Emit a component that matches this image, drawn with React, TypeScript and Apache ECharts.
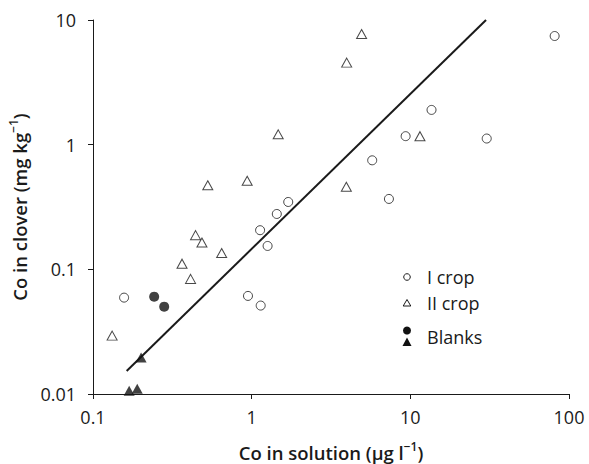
import { useEffect, useRef } from 'react';
import * as echarts from 'echarts';

// Co concentrations: solution (µg l⁻¹) vs clover (mg kg⁻¹)
const CROP1_X = [0.157, 0.948, 1.14, 1.13, 1.26, 1.44, 1.7, 5.75, 7.33, 9.34, 13.6, 30.3, 81.2];
const CROP1_Y = [0.0593, 0.0612, 0.0512, 0.206, 0.154, 0.278, 0.347, 0.749, 0.367, 1.17, 1.9, 1.12, 7.44];
const CROP2_X = [0.132, 0.364, 0.412, 0.443, 0.486, 0.647, 0.529, 0.937, 1.47, 3.97, 4.93, 3.95, 11.5];
const CROP2_Y = [0.0294, 0.111, 0.0838, 0.188, 0.164, 0.135, 0.472, 0.514, 1.21, 4.55, 7.72, 0.46, 1.17];
const BLANK_CIRCLE_X = [0.243, 0.281];
const BLANK_CIRCLE_Y = [0.0604, 0.0502];
const BLANK_TRI_X = [0.201, 0.169, 0.19];
const BLANK_TRI_Y = [0.0196, 0.0106, 0.011];
// regression line end points
const FIT_X = [0.163, 30];
const FIT_Y = [0.0153, 10];

const LEGEND_LABELS = ['I crop', 'II crop', 'Blanks'];

const FONT = "'Open Sans', sans-serif";
const INK = '#1a1a1a';

const pairs = (xs: number[], ys: number[]) => xs.map((x, i) => [x, ys[i]]);

export default function App() {
  const ref = useRef<HTMLDivElement>(null);

  useEffect(() => {
    if (!ref.current) return;
    const chart = echarts.init(ref.current, null, { renderer: 'svg' });

    const axisCommon = {
      type: 'log' as const,
      logBase: 10,
      axisLine: { show: true, lineStyle: { color: INK, width: 1 } },
      axisTick: { show: true, inside: false, length: 5, lineStyle: { color: INK, width: 1 } },
      minorTick: { show: false },
      splitLine: { show: false },
      axisLabel: {
        color: INK,
        fontFamily: FONT,
        fontSize: 18,
        formatter: (v: number) => String(v),
      },
      nameLocation: 'middle' as const,
    };

    const titleRich = {
      t: { fontFamily: FONT, fontSize: 18.5, fontWeight: 600, color: INK, lineHeight: 24 },
      s: { fontFamily: FONT, fontSize: 12, fontWeight: 600, color: INK, lineHeight: 15, verticalAlign: 'top' as const },
    };

    const lx = 407;
    const tx = 427;

    chart.setOption({
      animation: false,
      backgroundColor: '#ffffff',
      grid: {
        left: 93,
        right: 20,
        top: 20,
        bottom: 70,
        containLabel: false,
        outerBoundsMode: 'none',
      },
      xAxis: {
        ...axisCommon,
        min: 0.1,
        max: 100,
        axisLabel: { ...axisCommon.axisLabel, margin: 14 },
        name: '{t|Co in solution (µg l}{s|−1}{t|)}',
        nameGap: 46,
        nameTextStyle: { rich: titleRich },
      },
      yAxis: {
        ...axisCommon,
        min: 0.01,
        max: 10,
        axisLabel: { ...axisCommon.axisLabel, margin: 17 },
        name: '{t|Co in clover (mg kg}{s|−1}{t|)}',
        nameGap: 62,
        nameTextStyle: { rich: titleRich },
      },
      series: [
        {
          name: 'fit',
          type: 'line',
          data: pairs(FIT_X, FIT_Y),
          symbol: 'none',
          lineStyle: { color: INK, width: 2 },
          z: 1,
        },
        {
          name: LEGEND_LABELS[0],
          type: 'scatter',
          data: pairs(CROP1_X, CROP1_Y),
          symbol: 'circle',
          symbolSize: 9,
          itemStyle: { color: '#ffffff', borderColor: INK, borderWidth: 1 },
          z: 3,
        },
        {
          name: LEGEND_LABELS[1],
          type: 'scatter',
          data: pairs(CROP2_X, CROP2_Y),
          symbol: 'triangle',
          symbolSize: [10, 9],
          itemStyle: { color: '#ffffff', borderColor: INK, borderWidth: 1 },
          z: 3,
        },
        {
          name: LEGEND_LABELS[2],
          type: 'scatter',
          data: pairs(BLANK_CIRCLE_X, BLANK_CIRCLE_Y),
          symbol: 'circle',
          symbolSize: 10,
          itemStyle: { color: '#111111' },
          z: 3,
        },
        {
          name: LEGEND_LABELS[2] + ' ',
          type: 'scatter',
          data: pairs(BLANK_TRI_X, BLANK_TRI_Y),
          symbol: 'triangle',
          symbolSize: [11, 10],
          clip: false,
          itemStyle: { color: '#111111' },
          z: 3,
        },
      ],
      graphic: [
        {
          type: 'circle',
          shape: { cx: lx, cy: 277, r: 3.3 },
          style: { fill: '#fff', stroke: INK, lineWidth: 1 },
        },
        {
          type: 'polygon',
          shape: { points: [[lx, 299.5], [lx - 3.8, 306], [lx + 3.8, 306]] },
          style: { fill: '#fff', stroke: INK, lineWidth: 1 },
        },
        {
          type: 'circle',
          shape: { cx: lx, cy: 330.5, r: 4 },
          style: { fill: '#111' },
        },
        {
          type: 'polygon',
          shape: { points: [[lx, 337.5], [lx - 4.5, 346], [lx + 4.5, 346]] },
          style: { fill: '#111' },
        },
        {
          type: 'text',
          x: tx,
          y: 277,
          style: { text: LEGEND_LABELS[0], fontFamily: FONT, fontSize: 18, fill: INK, verticalAlign: 'middle' },
        },
        {
          type: 'text',
          x: tx,
          y: 303,
          style: { text: LEGEND_LABELS[1], fontFamily: FONT, fontSize: 18, fill: INK, verticalAlign: 'middle' },
        },
        {
          type: 'text',
          x: tx,
          y: 337,
          style: { text: LEGEND_LABELS[2], fontFamily: FONT, fontSize: 18, fill: INK, verticalAlign: 'middle' },
        },
      ],
    });

    return () => chart.dispose();
  }, []);

  return (
    <div
      ref={ref}
      style={{ position: 'fixed', left: 0, top: 0, width: 589, height: 464, background: '#fff' }}
    />
  );
}
